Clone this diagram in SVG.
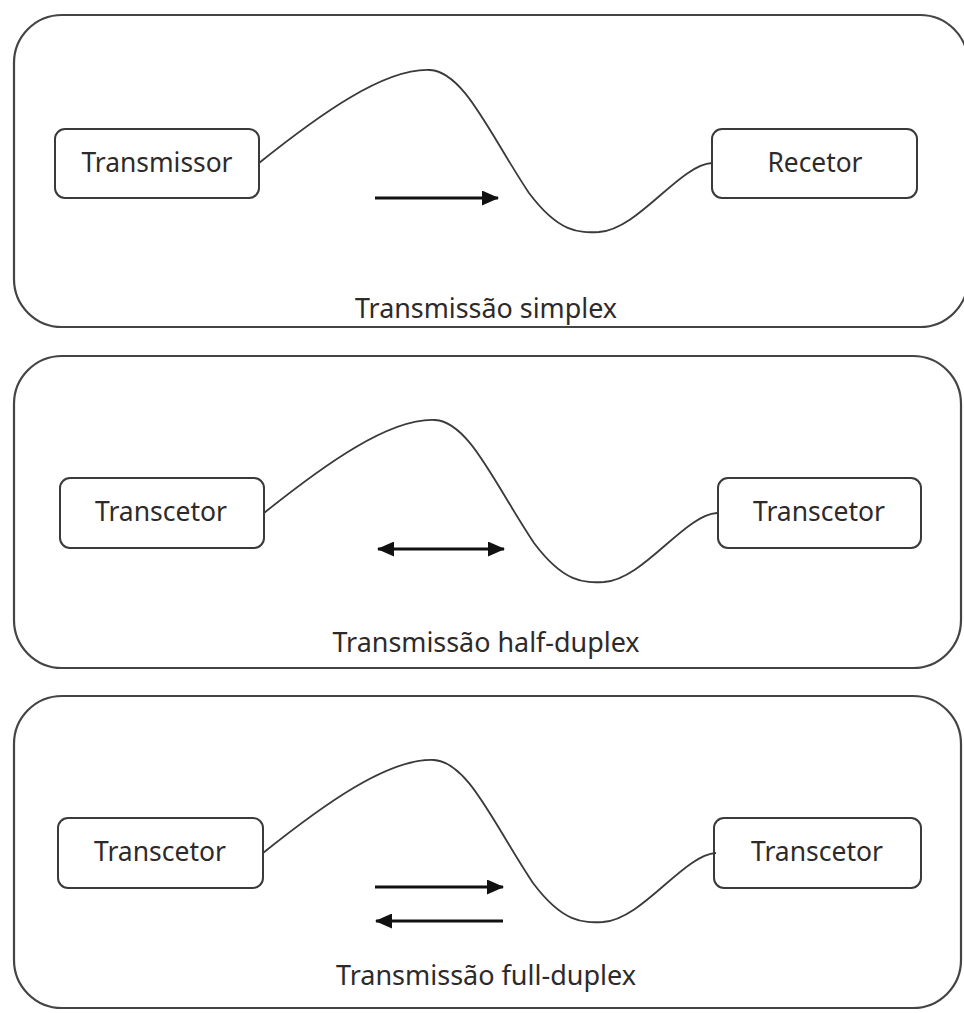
<svg xmlns="http://www.w3.org/2000/svg" width="964" height="1013" viewBox="0 0 964 1013">
<defs>
<style>
.panel{fill:none;stroke:#444;stroke-width:2.2}
.box{fill:#fff;stroke:#3a3a3a;stroke-width:2}
.lbl{font-family:"Noto Sans","Open Sans","Liberation Sans",sans-serif;font-size:27px;fill:#2e2a2a;text-anchor:middle}
.wave{fill:none;stroke:#3a3a3a;stroke-width:1.8}
.arr{fill:none;stroke:#111;stroke-width:3}
</style>
<marker id="ah" markerUnits="userSpaceOnUse" markerWidth="17" markerHeight="15" refX="16" refY="7.5" orient="auto-start-reverse" viewBox="0 0 17 15">
<path d="M0,0 L17,7.5 L0,15 Z" fill="#111"/>
</marker>
<path id="wv" d="M0,0 C60,-48 125,-95 171,-93 C205,-91 230,-30 270,30 C300,70 320,70 340,69 C380,66 420,2 453,0"/>
</defs>

<g id="panel-simplex">
<rect class="panel" x="14" y="15" width="954" height="312" rx="48" ry="48"/>
<text class="lbl" x="486" y="318" textLength="262" lengthAdjust="spacingAndGlyphs">Transmissão simplex</text>
</g>
<g id="node-transmissor">
<rect class="box" x="55" y="129" width="204" height="69" rx="10"/>
<text class="lbl" x="157" y="172" textLength="151" lengthAdjust="spacingAndGlyphs">Transmissor</text>
</g>
<g id="node-recetor">
<rect class="box" x="712" y="129" width="205" height="69" rx="10"/>
<text class="lbl" x="815" y="172" textLength="95" lengthAdjust="spacingAndGlyphs">Recetor</text>
</g>

<g id="panel-half">
<rect class="panel" x="14" y="356" width="947" height="312" rx="48" ry="48"/>
<text class="lbl" x="486" y="652" textLength="307" lengthAdjust="spacingAndGlyphs">Transmissão half-duplex</text>
</g>
<g id="node-transcetor-h1">
<rect class="box" x="60" y="478" width="204" height="70" rx="10"/>
<text class="lbl" x="161" y="521" textLength="132" lengthAdjust="spacingAndGlyphs">Transcetor</text>
</g>
<g id="node-transcetor-h2">
<rect class="box" x="718" y="478" width="203" height="70" rx="10"/>
<text class="lbl" x="819" y="521" textLength="132" lengthAdjust="spacingAndGlyphs">Transcetor</text>
</g>

<g id="panel-full">
<rect class="panel" x="14" y="696" width="947" height="312" rx="48" ry="48"/>
<text class="lbl" x="486" y="985" textLength="300" lengthAdjust="spacingAndGlyphs">Transmissão full-duplex</text>
</g>
<g id="node-transcetor-f1">
<rect class="box" x="58" y="818" width="205" height="70" rx="10"/>
<text class="lbl" x="160" y="861" textLength="132" lengthAdjust="spacingAndGlyphs">Transcetor</text>
</g>
<g id="node-transcetor-f2">
<rect class="box" x="714" y="818" width="207" height="70" rx="10"/>
<text class="lbl" x="817" y="861" textLength="132" lengthAdjust="spacingAndGlyphs">Transcetor</text>
</g>

<g id="connectors">
<use href="#wv" class="wave" transform="translate(259,163)"/>
<use href="#wv" class="wave" transform="translate(264,513)"/>
<use href="#wv" class="wave" transform="translate(263,853)"/>
<line class="arr" x1="375" y1="198" x2="498" y2="198" marker-end="url(#ah)"/>
<line class="arr" x1="378" y1="549" x2="504" y2="549" marker-start="url(#ah)" marker-end="url(#ah)"/>
<line class="arr" x1="375" y1="887" x2="503" y2="887" marker-end="url(#ah)"/>
<line class="arr" x1="503" y1="921" x2="376" y2="921" marker-end="url(#ah)"/>
</g>
</svg>
